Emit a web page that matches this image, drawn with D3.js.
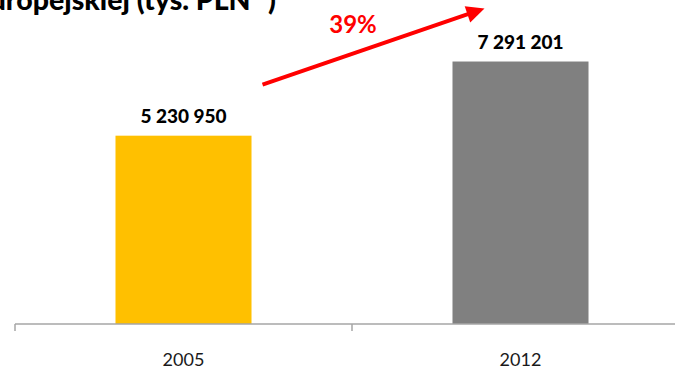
<!DOCTYPE html>
<html>
<head>
<meta charset="utf-8">
<script src="https://cdn.jsdelivr.net/npm/d3@7"></script>
<style>
  html, body { margin: 0; padding: 0; background: #fff; }
  svg { display: block; font-family: Lato, "Open Sans", sans-serif; }
</style>
</head>
<body>
<svg id="chart" width="675" height="368"></svg>
<script>
// Budget values in thousands of PLN
const categories = ["2005", "2012"];
const values = [5230950, 7291201];
const barColors = ["#FFC000", "#808080"];
const titleText = "Europejskiej (tys. PLN";
const titleNote = "**";

const W = 675, H = 368;
const baseY = 324;

const svg = d3.select("#chart");

const x = d3.scaleBand()
  .domain(categories)
  .range([15, 689])
  .paddingInner(0.5964)
  .paddingOuter(0.2982);

const y = d3.scaleLinear()
  .domain([0, 9000000])
  .range([baseY, 0]);

const fmt = v => d3.format(",")(v).replace(/,/g, " ");

// Bars
svg.selectAll("rect.bar")
  .data(values)
  .join("rect")
  .attr("class", "bar")
  .attr("x", (d, i) => x(categories[i]))
  .attr("y", d => y(d))
  .attr("width", x.bandwidth())
  .attr("height", d => baseY - y(d))
  .attr("fill", (d, i) => barColors[i]);

// Value labels
svg.selectAll("text.val")
  .data(values)
  .join("text")
  .attr("class", "val")
  .attr("x", (d, i) => x(categories[i]) + x.bandwidth() / 2)
  .attr("y", d => y(d) - 13)
  .attr("text-anchor", "middle")
  .attr("font-weight", "900")
  .attr("font-size", 19)
  .attr("fill", "#000")
  .text(d => fmt(d));

// Category axis: baseline plus boundary ticks
const step = x.step();
const halfGap = step * x.paddingInner() / 2;
const axis = svg.append("g").attr("stroke", "#A6A6A6").attr("stroke-width", 1.5);
axis.append("line")
  .attr("x1", x(categories[0]) - halfGap).attr("x2", W)
  .attr("y1", baseY).attr("y2", baseY);
const bounds = categories.map(c => x(c) - halfGap).concat([x(categories[categories.length - 1]) + x.bandwidth() + halfGap]);
axis.selectAll("line.tick")
  .data(bounds)
  .join("line")
  .attr("class", "tick")
  .attr("x1", d => d).attr("x2", d => d)
  .attr("y1", baseY).attr("y2", baseY + 7);

svg.selectAll("text.cat")
  .data(categories)
  .join("text")
  .attr("class", "cat")
  .attr("x", d => x(d) + x.bandwidth() / 2)
  .attr("y", 366)
  .attr("text-anchor", "middle")
  .attr("font-size", 18)
  .attr("fill", "#1a1a1a")
  .text(d => d);

// Growth arrow between the two years
const growth = Math.round((values[1] / values[0] - 1) * 100);
const x0 = x(categories[0]) + x.bandwidth() + 11;
const y0 = y(values[0]) - 51;
const x1 = x(categories[1]) + 32;
const y1 = y(values[1]) - 53;
const ang = Math.atan2(y1 - y0, x1 - x0);
const headLen = 18, headW = 8.5;
const bx = x1 - headLen * Math.cos(ang), by = y1 - headLen * Math.sin(ang);

svg.append("line")
  .attr("x1", x0).attr("y1", y0)
  .attr("x2", bx + 2 * Math.cos(ang)).attr("y2", by + 2 * Math.sin(ang))
  .attr("stroke", "#FF0000")
  .attr("stroke-width", 4);

svg.append("path")
  .attr("d", d3.line()([
    [x1, y1],
    [bx + headW * Math.sin(ang), by - headW * Math.cos(ang)],
    [bx - headW * Math.sin(ang), by + headW * Math.cos(ang)]
  ]) + "Z")
  .attr("fill", "#FF0000");

svg.append("text")
  .attr("x", 353)
  .attr("y", 33)
  .attr("text-anchor", "middle")
  .attr("font-weight", "bold")
  .attr("font-size", 24)
  .attr("fill", "#FF0000")
  .text(growth + "%");

// Title (upper lines run off the top edge)
const title = svg.append("text")
  .attr("x", 276)
  .attr("y", 10)
  .attr("text-anchor", "end")
  .attr("font-weight", "900")
  .attr("font-size", 28.5)
  .attr("fill", "#000");
title.append("tspan").text(titleText);
title.append("tspan").attr("dx", 3).attr("dy", -22).attr("font-size", 17).text(titleNote);
title.append("tspan").attr("dy", 22).text(")");
</script>
</body>
</html>
